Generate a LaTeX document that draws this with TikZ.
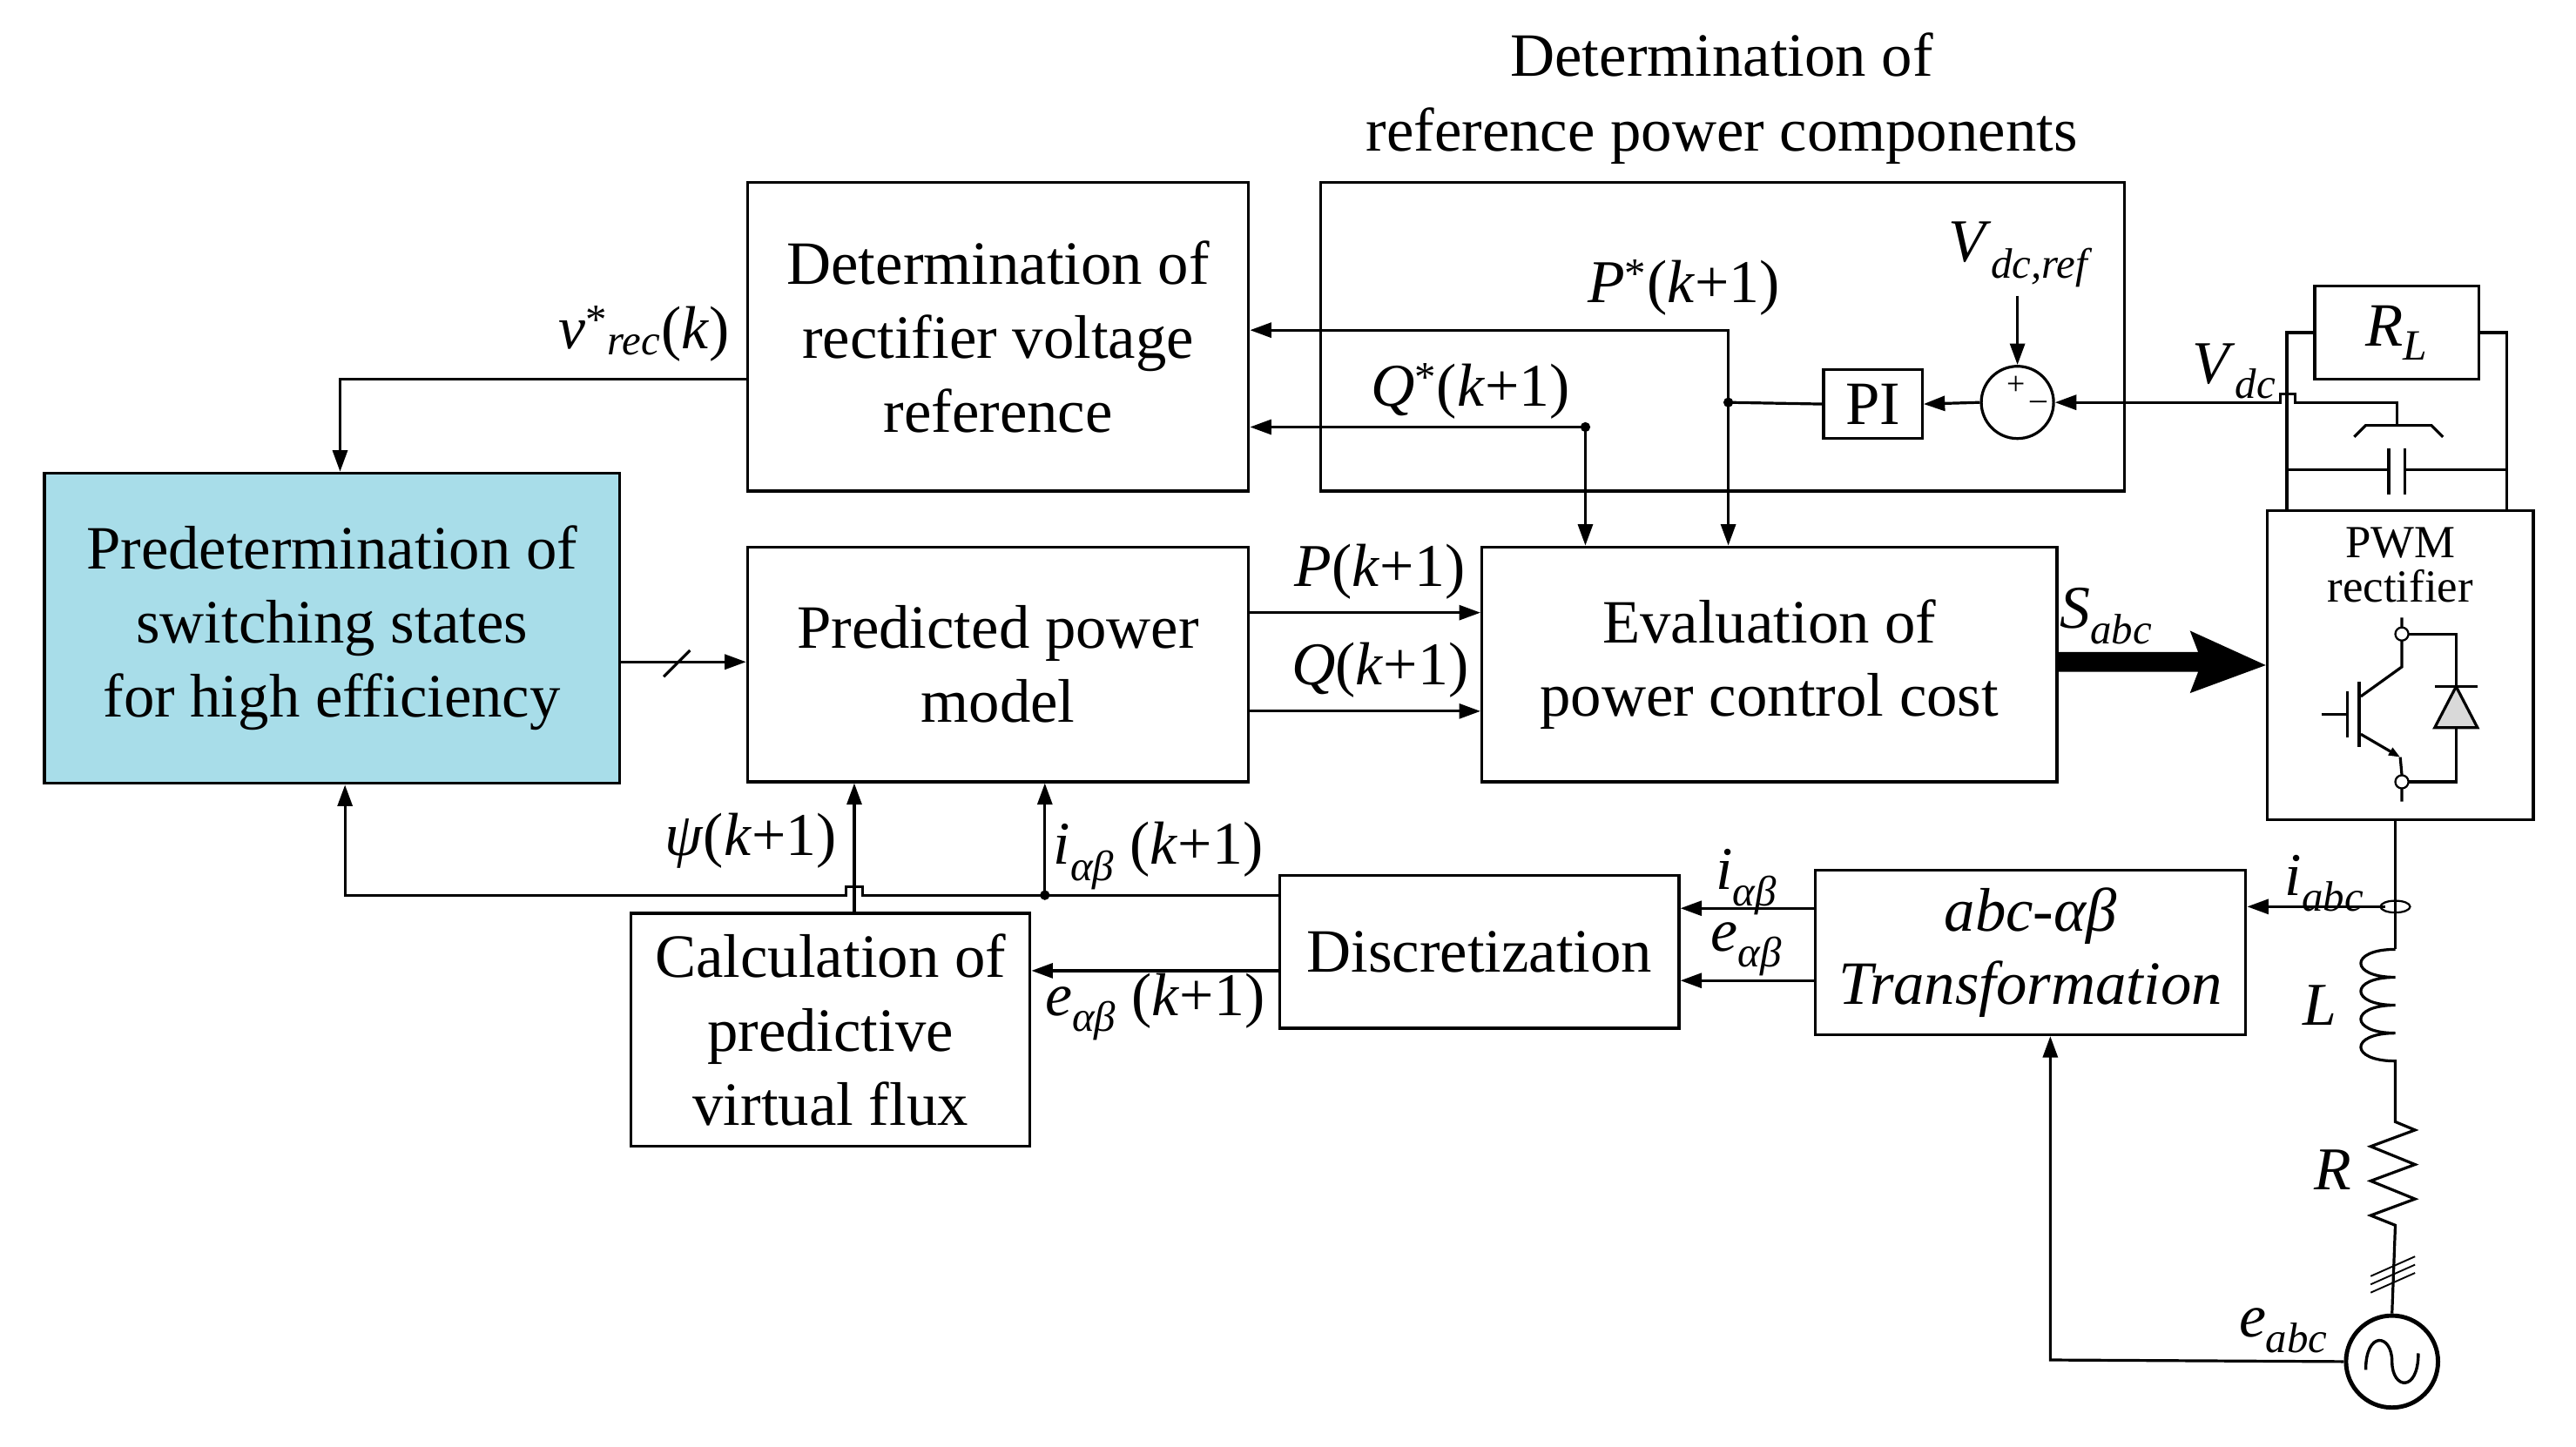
\documentclass[tikz,border=0pt]{standalone}
\usepackage{fontspec}
\setmainfont{Liberation Serif}
\usetikzlibrary{arrows.meta,calc}
\begin{document}
\begin{tikzpicture}[x=1pt,y=-1pt,
  box/.style={draw,line width=1.7pt,align=center,inner sep=0pt,font=\fontsize{37.5}{45}\selectfont},
  ln/.style={line width=1.7pt},
  arr/.style={ln,-{Triangle[length=13pt,width=9pt]}},
  lbl/.style={font=\fontsize{37}{42}\selectfont,inner sep=0pt},
  dot/.style={circle,fill,inner sep=0pt,minimum size=6pt}]
\useasboundingbox (0,0) rectangle (1568,881);
% boxes
\node[box,minimum width=305pt,minimum height=188pt] (dv) at (607.5,205) {Determination of\\rectifier voltage\\reference};
\node[box,minimum width=489pt,minimum height=188pt] (rp) at (1048.5,205) {};
\node[lbl,align=center,font=\fontsize{37.5}{46}\selectfont] (rpt) at (1048,60) {Determination of\\reference power components};
\node[box,fill={rgb,255:red,168;green,221;blue,233},minimum width=350pt,minimum height=189pt] (pre) at (202,382.5) {Predetermination of\\switching states\\for high efficiency};
\node[box,minimum width=305pt,minimum height=143pt] (ppm) at (607.5,404.5) {Predicted power\\model};
\node[box,minimum width=350pt,minimum height=143pt] (ev) at (1077,404.5) {Evaluation of\\power control cost};
\node[box,minimum width=162pt,minimum height=188pt] (pwm) at (1461,405) {};
\node[lbl,align=center,font=\fontsize{28}{27}\selectfont] (pwmt) at (1461,344) {PWM\\rectifier};
\node[box,minimum width=100pt,minimum height=57pt] (rl) at (1459,202.5) {\textit{R}\textsubscript{\textit{L}}};
\node[box,minimum width=60pt,minimum height=42pt] (pi) at (1140,246) {PI};
\node[draw,ln,circle,minimum size=44pt,inner sep=0pt] (sum) at (1228,245) {};
\node[font=\fontsize{20}{20}\selectfont,inner sep=0pt] at (1227,235) {+};
\node[font=\fontsize{20}{20}\selectfont,inner sep=0pt] at (1241,247) {--};
\node[box,minimum width=243pt,minimum height=142pt] (calc) at (505.5,627) {Calculation of\\predictive\\virtual flux};
\node[box,minimum width=243pt,minimum height=93pt] (disc) at (900.5,579.5) {Discretization};
\node[box,minimum width=262pt,minimum height=100pt] (abc) at (1236,580) {\textit{abc-αβ}\\\textit{Transformation}};
\node[draw,line width=2.6pt,circle,minimum size=56pt,inner sep=0pt] (src) at (1456,829) {};
% labels
\node[lbl] at (1230,155) {\textit{V}\textsubscript{\textit{dc,ref}}};
\node[lbl] at (1025,175) {\textit{P}\textsuperscript{*}(\textit{k}+1)};
\node[lbl] at (895,238) {\textit{Q}\textsuperscript{*}(\textit{k}+1)};
\node[lbl] at (392,203) {\textit{v}\textsuperscript{*}\textsubscript{\textit{rec}}(\textit{k})};
\node[lbl] at (1360,226) {\textit{V}\textsubscript{\textit{dc}}};
\node[lbl] at (840,348) {\textit{P}(\textit{k}+1)};
\node[lbl] at (840,408) {\textit{Q}(\textit{k}+1)};
\node[lbl] at (1282,375) {\textit{S}\textsubscript{\textit{abc}}};
\node[lbl] at (457,512) {\textit{ψ}(\textit{k}+1)};
\node[lbl] at (705,521) {\textit{i}\textsubscript{\textit{αβ}} (\textit{k}+1)};
\node[lbl] at (703,613) {\textit{e}\textsubscript{\textit{αβ}} (\textit{k}+1)};
\node[lbl] at (1063,537) {\textit{i}\textsubscript{\textit{αβ}}};
\node[lbl] at (1063,578) {\textit{e}\textsubscript{\textit{αβ}}};
\node[lbl] at (1415,538) {\textit{i}\textsubscript{\textit{abc}}};
\node[lbl] at (1390,810) {\textit{e}\textsubscript{\textit{abc}}};
\node[lbl] at (1412,612) {\textit{L}};
\node[lbl] at (1420,712) {\textit{R}};
% coordinates
\coordinate (jp) at (1052,245);
\coordinate (jq) at (965,260);
\coordinate (jb) at (636,545);
% top connectors
\draw[arr] (1228,180) -- (sum.north);
\draw[arr] (sum.west) -- (pi.east);
\draw[ln] (pi.west) -- (jp);
\draw[arr] (jp) -- (1052,201) -- (dv.east |- 0,201);
\draw[arr] (jp) -- (ev.north -| jp);
\draw[arr] (jq) -- (dv.east |- jq);
\draw[arr] (jq) -- (ev.north -| jq);
\node[dot] at (jp) {};
\node[dot] at (jq) {};
\draw[arr] (dv.west |- 0,231) -- (207,231) -- (pre.north -| 207,0);
\draw[arr] (pre.east |- 0,403) -- (ppm.west |- 0,403);
\draw[ln] (404,412) -- (420,396);
\draw[arr] (ppm.east |- 0,373) -- (ev.west |- 0,373);
\draw[arr] (ppm.east |- 0,433) -- (ev.west |- 0,433);
\fill (ev.east |- 0,397) -- (1338,397) -- (1333,384) -- (pwm.west) -- (1333,422) -- (1338,409) -- (ev.east |- 0,409) -- cycle;
% Vdc line with hop
\draw[arr] (1459,259) -- (1459,245) -- (1397,245) -- (1397,240) -- (1388,240) -- (1388,245) -- (sum.east);
% bottom connectors
\draw[arr] (disc.west |- 0,545) -- (525,545) -- (525,540) -- (515,540) -- (515,545) -- (210,545) -- (pre.south -| 210,0);
\draw[arr] (jb) -- (ppm.south -| jb);
\node[dot] at (jb) {};
\draw[arr] (calc.north -| 520,0) -- (ppm.south -| 520,0);
\draw[arr] (disc.west |- 0,591) -- (calc.east |- 0,591);
\draw[arr] (abc.west |- 0,553) -- (disc.east |- 0,553);
\draw[arr] (abc.west |- 0,597) -- (disc.east |- 0,597);
\draw[arr] (1452,552) -- (abc.east |- 0,552);
\draw[arr] (src.west) -- (1248,828) -- (abc.south -| 1248,0);
% DC side circuit
\draw[ln] (rl.west) -- (1392,202.5) -- (pwm.north -| 1392,0);
\draw[ln] (rl.east) -- (1526,202.5) -- (pwm.north -| 1526,0);
\draw[ln] (1392,286) -- (1454,286) (1464,286) -- (1526,286);
\draw[ln] (1454,273) -- (1454,301) (1464,273) -- (1464,301);
\draw[ln] (1433,266) -- (1440,259) -- (1480,259) -- (1487,266);
% IGBT
\draw[ln] (1413,435) -- (1429,435) (1429,421) -- (1429,449);
\draw[line width=2.2pt] (1436,415) -- (1436,455);
\draw[ln] (1437,424) -- (1462,406) -- (1462,390) (1462,382) -- (1462,376);
\draw[ln,-{Triangle[length=7pt,width=5pt]}] (1437,447) -- (1461,461);
\draw[ln] (1461,461) -- (1462,472) (1462,480) -- (1462,488);
\draw[line width=1.2pt,fill=white] (1462,386) circle (4) (1462,476) circle (4);
\draw[ln] (1466,386) -- (1495,386) -- (1495,476) -- (1466,476);
\draw[ln,fill=gray!30] (1495,418) -- (1482,443) -- (1508,443) -- cycle;
\draw[ln] (1482,418) -- (1508,418);
% AC side
\draw[ln] (pwm.south -| 1458,0) -- (1458,578);
\draw[line width=1.2pt] (1458,552) ellipse (9 and 3.6);
\draw[ln] (1458,578) .. controls (1430,578) and (1430,595) .. (1458,595)
  .. controls (1430,595) and (1430,612) .. (1458,612)
  .. controls (1430,612) and (1430,629) .. (1458,629)
  .. controls (1430,629) and (1430,646) .. (1458,646) -- (1458,683)
  -- (1470,688) -- (1443,698) -- (1470,709) -- (1443,719) -- (1470,730) -- (1443,740) -- (1458,746) -- (src.north);
\draw[line width=1pt] (1443,782) -- (1470,770) (1443,777) -- (1470,765) (1443,787) -- (1470,775);
\draw[line width=1.8pt] (1440,834) .. controls (1440,810) and (1456,812) .. (1456,829) .. controls (1456,846) and (1472,848) .. (1472,824);
\end{tikzpicture}
\end{document}
